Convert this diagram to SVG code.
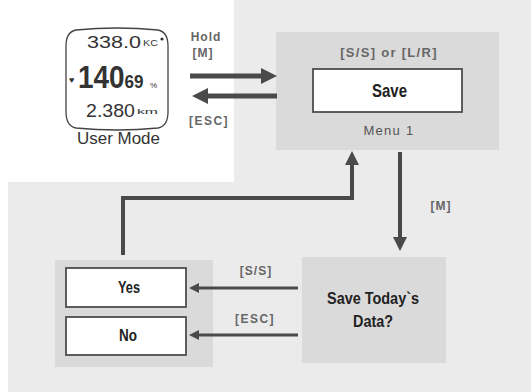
<svg xmlns="http://www.w3.org/2000/svg" width="531" height="392" viewBox="0 0 531 392">
  <style>
    .panel { fill: #ebebeb; }
    .box { fill: #dadada; }
    .opt { fill: #ffffff; stroke: #4d4d4d; stroke-width: 1.8; }
    .lbl { font-family: "Liberation Sans", Arial, sans-serif; font-weight: bold; fill: #666666; text-anchor: middle; }
    .big { font-family: "Liberation Sans", Arial, sans-serif; font-weight: bold; fill: #222222; text-anchor: middle; }
    .lcd { font-family: "Liberation Sans", Arial, sans-serif; fill: #333333; }
    .thick { fill: none; stroke: #4a4a4a; stroke-width: 5; }
    .mid { fill: none; stroke: #4a4a4a; stroke-width: 4; }
    .thin { fill: none; stroke: #4a4a4a; stroke-width: 3; }
  </style>
  <defs>
    <marker id="headL" markerUnits="userSpaceOnUse" viewBox="0 0 16 16" markerWidth="16" markerHeight="16" refX="1" refY="8" orient="auto">
      <path d="M0,0 L16,8 L0,16 Z" fill="#4a4a4a"/>
    </marker>
    <marker id="headM" markerUnits="userSpaceOnUse" viewBox="0 0 14 14" markerWidth="14" markerHeight="14" refX="1" refY="7" orient="auto">
      <path d="M0,0 L14,7 L0,14 Z" fill="#4a4a4a"/>
    </marker>
    <marker id="headS" markerUnits="userSpaceOnUse" viewBox="0 0 10 10" markerWidth="10" markerHeight="10" refX="1" refY="5" orient="auto">
      <path d="M0,0 L10,5 L0,10 Z" fill="#4a4a4a"/>
    </marker>
  </defs>

  <!-- background -->
  <rect width="531" height="392" fill="#ffffff"/>
  <path class="panel" d="M234,0 H531 V392 H8 V182 H234 Z"/>

  <!-- user mode display -->
  <g id="user-mode">
    <path d="M76,30 Q117,26 158,30 Q168,32 168,46 L168,112 Q168,126 158,128 Q117,132 76,128 Q66,126 66,112 L66,46 Q66,32 76,30 Z" fill="#ffffff" stroke="#444444" stroke-width="1.3"/>
    <text class="lcd" x="87" y="48" font-size="17" textLength="54" lengthAdjust="spacingAndGlyphs">338.0</text>
    <text class="lcd" x="143" y="46" font-size="9" textLength="15" lengthAdjust="spacingAndGlyphs">KC</text>
    <circle cx="162" cy="39" r="1.6" fill="#333333"/>
    <text class="lcd" x="69" y="83" font-size="9" font-family="DejaVu Sans, sans-serif">♥</text>
    <!-- main reading: large digits followed by smaller ones, squeezed horizontally -->
    <text class="lcd" transform="translate(78,88) scale(0.9,1)" font-weight="bold"><tspan font-size="31">140</tspan><tspan font-size="19">69</tspan></text>
    <text class="lcd" x="150" y="88" font-size="8">%</text>
    <text class="lcd" x="86" y="117" font-size="19" textLength="49" lengthAdjust="spacingAndGlyphs">2.380</text>
    <text class="lcd" x="137" y="114" font-size="8" textLength="21" lengthAdjust="spacingAndGlyphs">km</text>
    <text class="lcd" x="77" y="144" font-size="16.5" textLength="83" lengthAdjust="spacingAndGlyphs">User Mode</text>
  </g>

  <!-- menu 1 -->
  <g id="menu1">
    <rect class="box" x="276" y="32" width="223" height="118"/>
    <text class="lbl" x="389" y="57" font-size="13" letter-spacing="1.3">[S/S] or [L/R]</text>
    <rect class="opt" x="313" y="69" width="149" height="43"/>
    <text class="big" x="389.5" y="97" font-size="18" fill="#111111" textLength="35" lengthAdjust="spacingAndGlyphs">Save</text>
    <text x="389" y="135" font-family="Liberation Sans, Arial, sans-serif" font-size="13" fill="#555555" text-anchor="middle" letter-spacing="1.3">Menu 1</text>
  </g>

  <!-- confirmation -->
  <g id="confirm">
    <rect class="box" x="302" y="257" width="144" height="106"/>
    <text class="big" x="373" y="304" font-size="17" fill="#333333" textLength="92" lengthAdjust="spacingAndGlyphs">Save Today`s</text>
    <text class="big" x="373" y="327" font-size="17" fill="#333333" textLength="40" lengthAdjust="spacingAndGlyphs">Data?</text>
  </g>

  <!-- yes / no options -->
  <g id="choices">
    <rect class="box" x="55" y="260" width="158" height="107"/>
    <g id="yes">
      <rect class="opt" x="66" y="268" width="120" height="39"/>
      <text class="big" x="129" y="293" font-size="17" fill="#333333" textLength="22" lengthAdjust="spacingAndGlyphs">Yes</text>
    </g>
    <g id="no">
      <rect class="opt" x="66" y="317" width="120" height="38"/>
      <text class="big" x="128" y="341" font-size="17" fill="#333333" textLength="18" lengthAdjust="spacingAndGlyphs">No</text>
    </g>
  </g>

  <!-- connectors -->
  <g id="connectors">
    <line class="thick" x1="190" y1="76" x2="262" y2="76" marker-end="url(#headL)"/>
    <line class="thick" x1="277" y1="96" x2="207" y2="96" marker-end="url(#headL)"/>
    <polyline class="mid" points="123,255 123,198 352,198 352,164" marker-end="url(#headM)"/>
    <line class="mid" x1="400" y1="152" x2="400" y2="238" marker-end="url(#headM)"/>
    <line class="thin" x1="298" y1="288" x2="198" y2="288" marker-end="url(#headS)"/>
    <line class="thin" x1="298" y1="335" x2="198" y2="335" marker-end="url(#headS)"/>
    <text class="lbl" x="206" y="41" font-size="12" letter-spacing="1">Hold</text>
    <text class="lbl" x="203" y="57" font-size="12" letter-spacing="1">[M]</text>
    <text class="lbl" x="209" y="125" font-size="12" letter-spacing="1.5">[ESC]</text>
    <text class="lbl" x="441" y="210" font-size="12" font-weight="normal" fill="#777777" letter-spacing="1">[M]</text>
    <text class="lbl" x="256" y="275" font-size="12" letter-spacing="1">[S/S]</text>
    <text class="lbl" x="255" y="323" font-size="12" letter-spacing="1.5" font-weight="normal" fill="#777777">[ESC]</text>
  </g>
</svg>
